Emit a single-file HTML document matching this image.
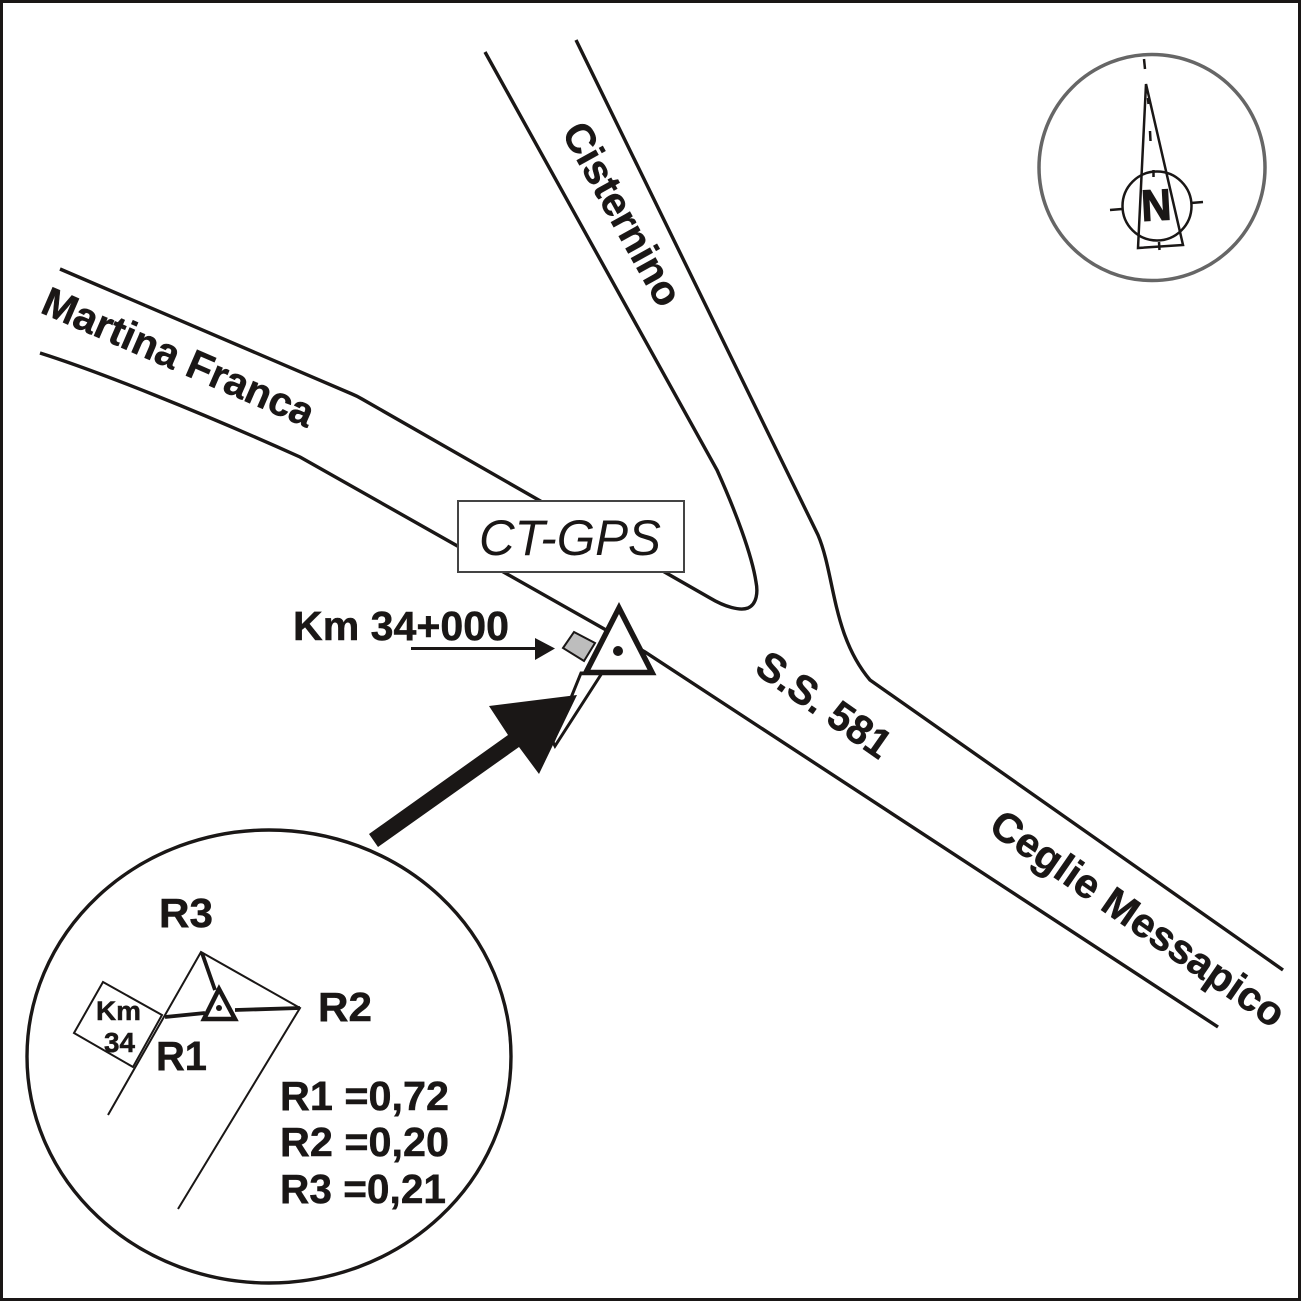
<!DOCTYPE html>
<html><head><meta charset="utf-8"><style>
html,body{margin:0;padding:0;background:#fff}
svg{display:block}
text{font-family:"Liberation Sans",Arial,sans-serif;font-weight:bold;fill:#1a1716;stroke:#1a1716;stroke-width:.5px}
</style></head><body>
<svg width="1303" height="1303" viewBox="0 0 1303 1303" xmlns="http://www.w3.org/2000/svg">
<rect width="1303" height="1303" fill="#fff"/>
<rect x="1.5" y="1.5" width="1298" height="1298" fill="none" stroke="#1a1716" stroke-width="3"/>
<g fill="none" stroke="#1a1716" stroke-width="3.400">
<path d="M60 269 L352 394 Q357 396 362 399 L710 598 C725 607 740 611 748 608 C757 604 758 592 756 582 C752 555 735 510 717 470 L485 52"/>
<path d="M40 353 C100 372 200 412 300 457 L645 652 L1218 1027"/>
<path d="M576 40 L818 535 C835 575 832 635 870 680 L1283 970"/>
</g>
<rect x="458" y="501" width="226" height="71" fill="#fff" stroke="#444" stroke-width="2"/>
<text x="479" y="555" font-size="50" textLength="182" lengthAdjust="spacingAndGlyphs" style="font-weight:normal;font-style:italic;stroke:none">CT-GPS</text>
<text x="293" y="640" font-size="41" textLength="216" lengthAdjust="spacingAndGlyphs">Km 34+000</text>
<path d="M411 648.500 H540" stroke="#1a1716" stroke-width="3"/>
<polygon points="535,638 555,648.500 535,660" fill="#1a1716"/>
<polygon points="574,632 595,643 584,661 563,648" fill="#bdbdbd" stroke="#1a1716" stroke-width="2"/>
<polygon points="581,673 602,673 555,746 553,742" fill="#fff" stroke="#1a1716" stroke-width="3"/>
<polygon points="619,608 586,672.500 652,672.500" fill="#fff" stroke="#1a1716" stroke-width="5.500"/>
<circle cx="618" cy="651" r="5" fill="#1a1716"/>
<polygon points="369,834 508,735 489,706 577,695 539,774 519,747 378,847" fill="#1a1716"/>
<ellipse cx="269" cy="1056.500" rx="242" ry="226.500" fill="none" stroke="#1a1716" stroke-width="3.400"/>
<g fill="none" stroke="#1a1716" stroke-width="2">
<polygon points="103,982 162,1015 133,1067 74,1033" fill="#fff"/>
<path d="M108 1115 L201 952 L300 1008 L178 1209"/>
</g>
<g fill="none" stroke="#1a1716" stroke-width="3.800">
<path d="M165 1017 L205 1013 M235 1010 L300 1008 M202 953 L215 990"/>
<polygon points="219,989 204,1019 235,1019" fill="#fff" stroke-width="4.500"/>
</g>
<circle cx="219" cy="1008" r="3" fill="#1a1716"/>
<g font-size="41">
<text x="159" y="927" textLength="54" lengthAdjust="spacingAndGlyphs">R3</text>
<text x="318" y="1021" textLength="54" lengthAdjust="spacingAndGlyphs">R2</text>
<text x="156" y="1070" textLength="51" lengthAdjust="spacingAndGlyphs">R1</text>
<text x="280" y="1110" textLength="169" lengthAdjust="spacingAndGlyphs">R1 =0,72</text>
<text x="280" y="1156" textLength="169" lengthAdjust="spacingAndGlyphs">R2 =0,20</text>
<text x="280" y="1203" textLength="166" lengthAdjust="spacingAndGlyphs">R3 =0,21</text>
</g>
<text x="96" y="1020" font-size="27" textLength="45" lengthAdjust="spacingAndGlyphs">Km</text>
<text x="104" y="1052" font-size="28" textLength="31" lengthAdjust="spacingAndGlyphs">34</text>
<text transform="translate(39 312) rotate(23.400)" font-size="41" textLength="292" lengthAdjust="spacingAndGlyphs">Martina Franca</text>
<text transform="translate(561 132) rotate(61)" font-size="41" textLength="203" lengthAdjust="spacingAndGlyphs">Cisternino</text>
<text transform="translate(753 672) rotate(35)" font-size="41" textLength="154" lengthAdjust="spacingAndGlyphs">S.S. 581</text>
<text transform="translate(987 831) rotate(34.700)" font-size="41" textLength="348" lengthAdjust="spacingAndGlyphs">Ceglie Messapico</text>
<circle cx="1152" cy="167.500" r="113" fill="none" stroke="#666" stroke-width="3.500"/>
<g fill="none" stroke="#1a1716" stroke-width="2.500">
<polygon points="1146,84 1138,248 1183,245"/>
<circle cx="1157" cy="206" r="34.500"/>
<path d="M1144 59 L1145 69 M1148 98 L1148.500 104 M1150 131 L1150.500 141 M1153.500 170 L1153.500 177 M1159 242 L1159.500 250 M1110 210 L1122 209 M1191 203 L1203 202"/>
</g>
<text transform="translate(1142 221) rotate(-3)" font-size="44" textLength="30" lengthAdjust="spacingAndGlyphs" style="stroke-width:1.2px">N</text>
</svg>
</body></html>
